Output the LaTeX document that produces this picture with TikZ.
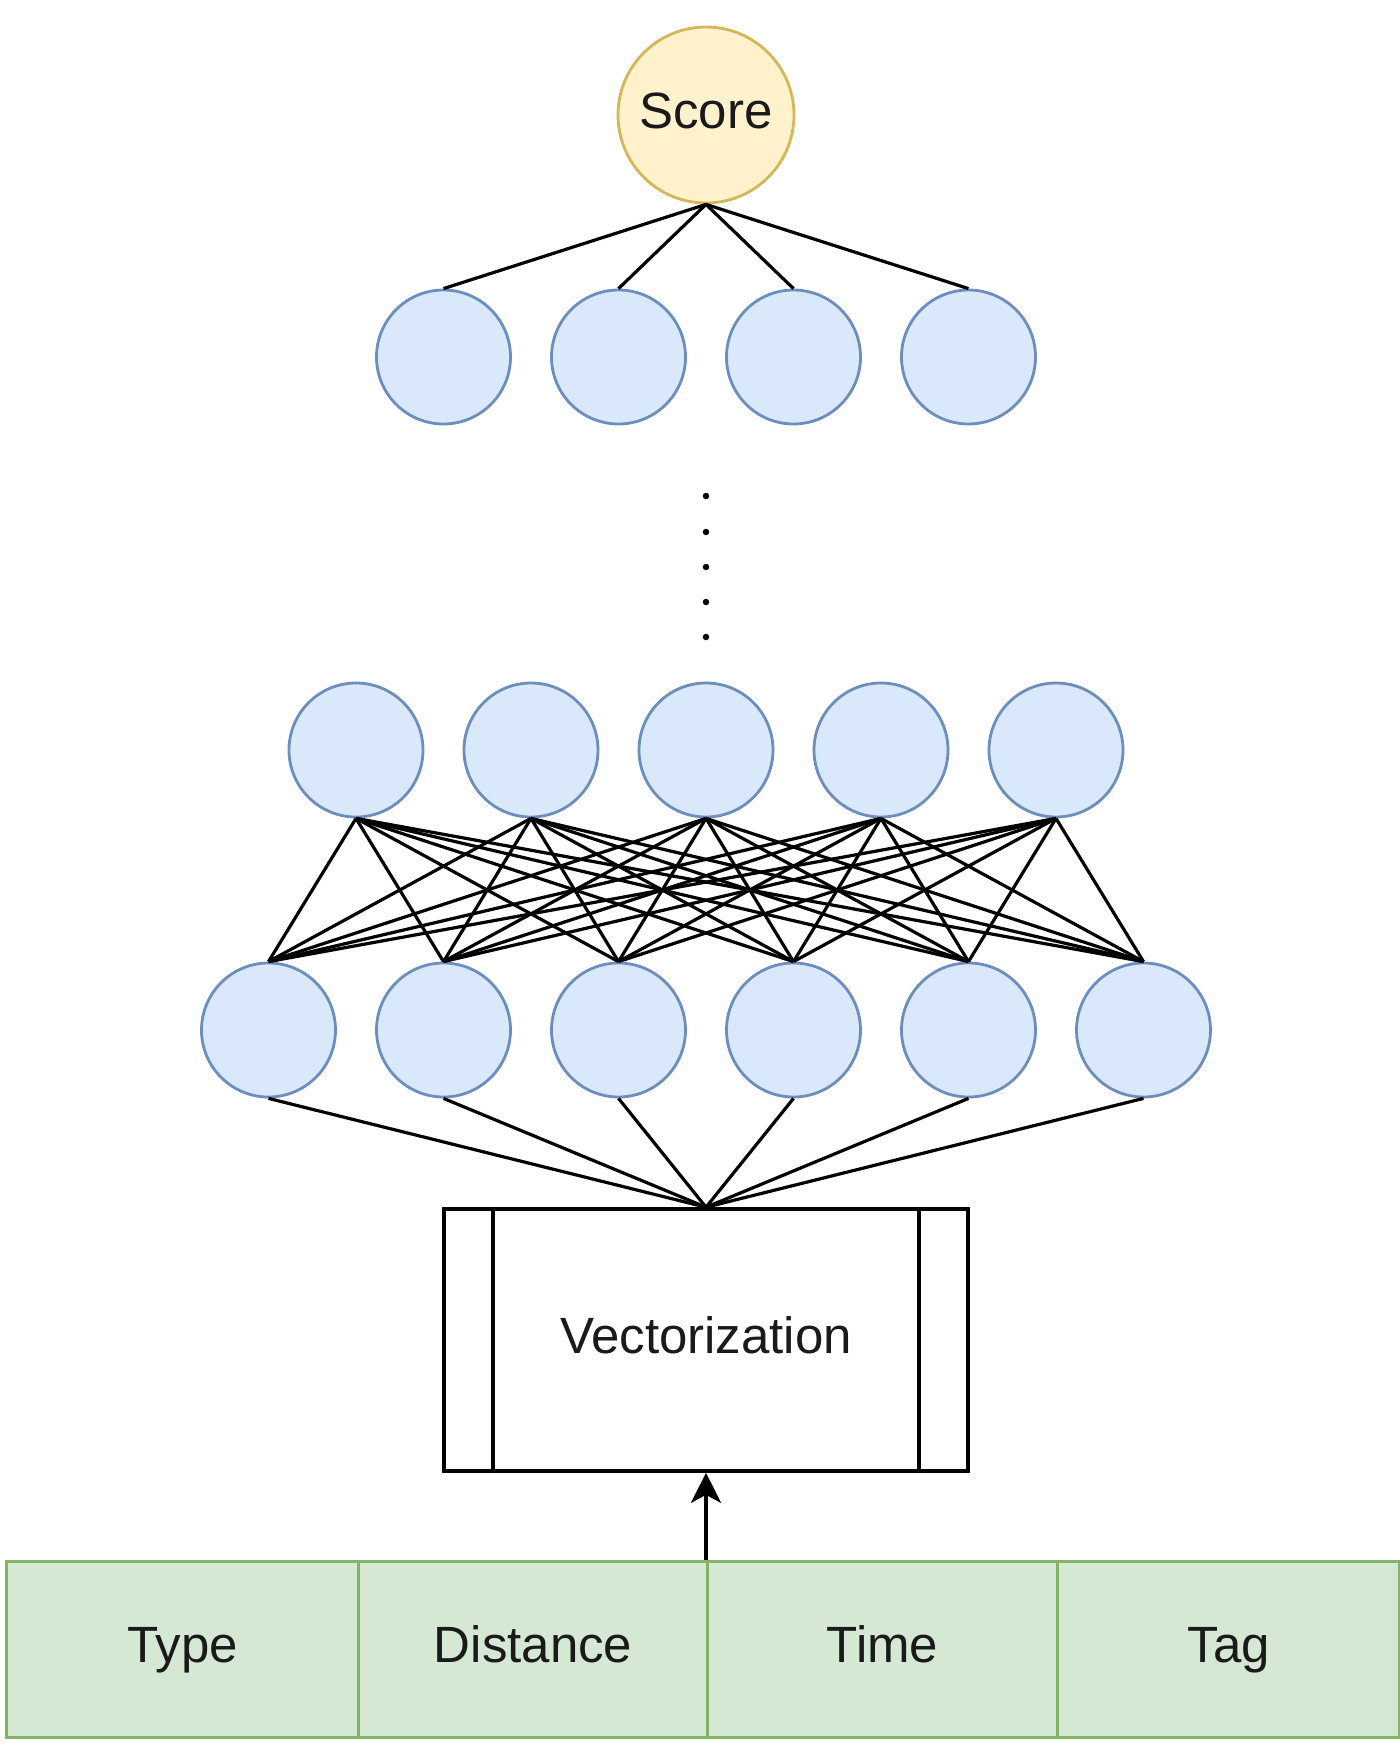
\documentclass[tikz,border=0pt]{standalone}
\usepackage{fontspec}
\setmainfont{Liberation Sans}
\usetikzlibrary{arrows.meta}
\definecolor{scorefill}{HTML}{FFF2CC}
\definecolor{scoreline}{HTML}{D6B656}
\definecolor{unitfill}{HTML}{DAE8FC}
\definecolor{unitline}{HTML}{6C8EBF}
\definecolor{cellfill}{HTML}{D5E8D4}
\definecolor{cellline}{HTML}{82B366}
\definecolor{ink}{HTML}{1A1A1A}
\begin{document}
\begin{tikzpicture}[x=1pt,y=-1pt,
  txt/.style={font=\fontsize{51}{60}\selectfont, text=ink,
    text height=37pt, text depth=11pt},
  unit/.style={circle, draw=unitline, fill=unitfill, line width=2.8pt,
    minimum size=134pt, inner sep=0pt},
  score/.style={circle, draw=scoreline, fill=scorefill, line width=2.8pt,
    minimum size=176pt, inner sep=0pt, txt},
  cell/.style={rectangle, draw=cellline, fill=cellfill, line width=3.2pt,
    minimum height=176pt, inner sep=0pt, anchor=north west, txt},
  link/.style={black, line width=3.2pt},
  dotmark/.style={circle, fill=black, minimum size=6.5pt, inner sep=0pt}]
\useasboundingbox (0,0) rectangle (1400,1754);

% output neuron
\node[score] (score) at (706,115) {Score};

% last hidden layer
\foreach \i/\x in {1/443.5,2/618.5,3/793.5,4/968.5}
  \node[unit] (t\i) at (\x,357) {};

% ellipsis between layers
\foreach \j/\y in {1/496,2/532,3/567,4/602,5/637}
  \node[dotmark] (d\j) at (706,\y) {};

% second hidden layer
\foreach \i/\x in {1/356,2/531,3/706,4/881,5/1056}
  \node[unit] (m\i) at (\x,750) {};

% first hidden layer
\foreach \i/\x in {1/268.5,2/443.5,3/618.5,4/793.5,5/968.5,6/1143.5}
  \node[unit] (b\i) at (\x,1030) {};

% vectorization block
\node[rectangle, draw=black, line width=3.6pt, minimum width=524pt,
  minimum height=262pt, inner sep=0pt, txt] (vec) at (706,1340) {Vectorization};
\draw[line width=3.6pt] ([xshift=51pt]vec.north west) -- ([xshift=51pt]vec.south west);
\draw[line width=3.6pt] ([xshift=-51pt]vec.north east) -- ([xshift=-51pt]vec.south east);

% input feature fields
\node[cell, minimum width=352pt] (type) at (5,1560) {Type};
\node[cell, minimum width=349pt] (dist) at (357,1560) {Distance};
\node[cell, minimum width=350pt] (time) at (706,1560) {Time};
\node[cell, minimum width=342pt] (tag) at (1056,1560) {Tag};

% connections
\foreach \i in {1,...,4}
  \draw[link] (score.south) -- (t\i.north);
\foreach \i in {1,...,5}
  \foreach \k in {1,...,6}
    \draw[link] (m\i.south) -- (b\k.north);
\foreach \k in {1,...,6}
  \draw[link] (b\k.south) -- (vec.north);
\draw[black, line width=4pt, -{Stealth[length=30pt, width=30pt, inset=8pt]}]
  (time.north west) -- (vec.south);
\end{tikzpicture}
\end{document}
